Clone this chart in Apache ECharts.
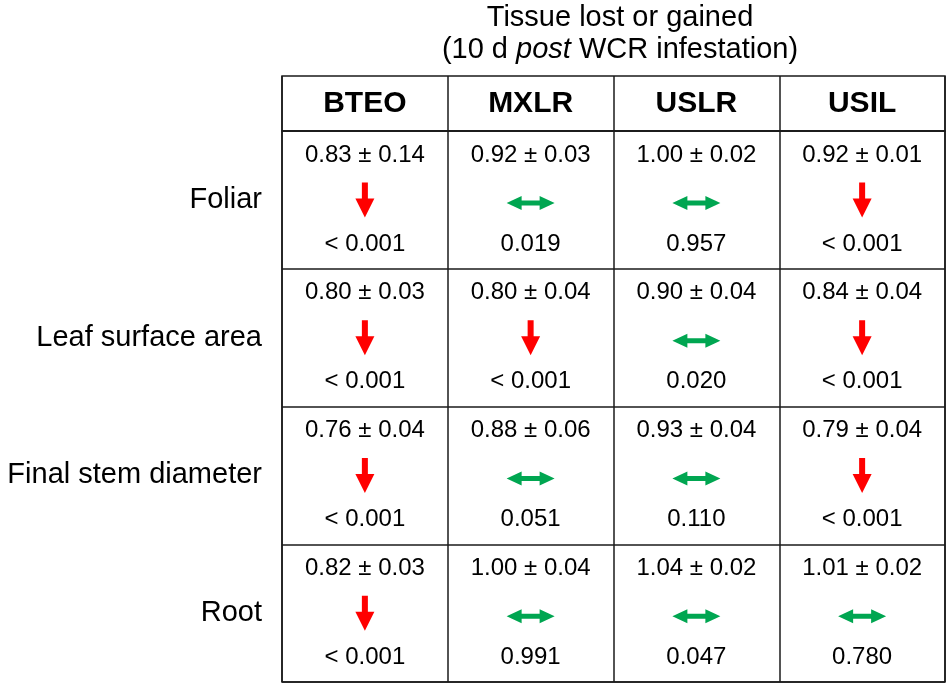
<!DOCTYPE html>
<html>
<head>
	<meta charset="utf-8">
	<title>Tissue lost or gained</title>
	<style type="text/css">
		html, body {
			margin: 0;
			padding: 0;
			background: #fff;
		}
		#chart {
			width: 950px;
			height: 687px;
		}
	</style>
</head>
<body>
	<div id="chart"></div>

	<script src="https://cdn.jsdelivr.net/npm/echarts@6.0.0/dist/echarts.min.js"></script>
	<script type="text/javascript">
	// columns = populations, rows = traits
	const COLUMNS = ['BTEO', 'MXLR', 'USLR', 'USIL'];
	const TRAITS = ['Foliar', 'Leaf surface area', 'Final stem diameter', 'Root'];

	const MEAN_RATIO = [
		[0.83, 0.92, 1.00, 0.92],
		[0.80, 0.80, 0.90, 0.84],
		[0.76, 0.88, 0.93, 0.79],
		[0.82, 1.00, 1.04, 1.01]
	];
	const STD_ERR = [
		[0.14, 0.03, 0.02, 0.01],
		[0.03, 0.04, 0.04, 0.04],
		[0.04, 0.06, 0.04, 0.04],
		[0.03, 0.04, 0.02, 0.02]
	];
	const P_VALUE = [
		['< 0.001', '0.019', '0.957', '< 0.001'],
		['< 0.001', '< 0.001', '0.020', '< 0.001'],
		['< 0.001', '0.051', '0.110', '< 0.001'],
		['< 0.001', '0.991', '0.047', '0.780']
	];
	// 'loss' = red down arrow, 'none' = green double arrow
	const CHANGE = [
		['loss', 'none', 'none', 'loss'],
		['loss', 'loss', 'none', 'loss'],
		['loss', 'none', 'none', 'loss'],
		['loss', 'none', 'none', 'none']
	];

	const FONT = 'Liberation Sans, Arial, sans-serif';
	const INK = '#000';
	const LINE = '#1a1a1a';
	const DOWN_ARROW = 'path://M6.5,0 L12.5,0 L12.5,16 L19,16 L9.5,35 L0,16 L6.5,16 Z';
	const BOTH_ARROW = 'path://M0,7 L15,0 L15,4.5 L33,4.5 L33,0 L48,7 L33,14 L33,9.5 L15,9.5 L15,14 Z';

	function buildCells() {
		let textCells = [];
		let lossCells = [];
		let noneCells = [];
		for (let r = 0; r < TRAITS.length; r++) {
			for (let c = 0; c < COLUMNS.length; c++) {
				textCells.push({
					value: [c, r],
					mean: MEAN_RATIO[r][c].toFixed(2) + ' \u00b1 ' + STD_ERR[r][c].toFixed(2),
					p: P_VALUE[r][c]
				});
				if (CHANGE[r][c] === 'loss') {
					lossCells.push([c, r]);
				} else {
					noneCells.push([c, r]);
				}
			}
		}
		return { textCells, lossCells, noneCells };
	}

	function cellLabel(formatter, offsetY, size, weight) {
		return {
			show: true,
			position: 'inside',
			offset: [0, offsetY],
			formatter: formatter,
			fontFamily: FONT,
			fontWeight: weight,
			fontSize: size,
			color: INK,
			textBorderWidth: 0
		};
	}

	// text-only scatter (scatter is 0.8 opacity by default, labels included)
	function textSeries(name, gridIdx, data, label) {
		return {
			name: name,
			type: 'scatter',
			xAxisIndex: gridIdx,
			yAxisIndex: gridIdx,
			symbolSize: 0,
			silent: true,
			itemStyle: { opacity: 1 },
			data: data,
			label: label
		};
	}

	function drawChart() {
		var myChart = echarts.init(document.getElementById('chart'));
		const cells = buildCells();

		const hiddenCat = {
			axisLine: { show: false },
			axisTick: { show: false },
			axisLabel: { show: false }
		};
		const gridLines = { show: true, interval: 0, lineStyle: { color: LINE, width: 1.5 } };

		var option = {
			animation: false,
			backgroundColor: '#fff',
			title: {
				left: 615,
				top: -3,
				textAlign: 'center',
				text: '{n|Tissue lost or gained}\n{n|(10 d }{i|post}{n| WCR infestation)}',
				textStyle: {
					fontWeight: 'normal',
					rich: {
						n: { fontFamily: FONT, fontSize: 29, fontWeight: 'normal', color: INK, lineHeight: 32 },
						i: { fontFamily: FONT, fontSize: 29, fontWeight: 'normal', color: INK, lineHeight: 32, fontStyle: 'italic' }
					}
				}
			},
			grid: [
				{
					left: 282, top: 76, width: 663, height: 55,
					show: true, borderColor: LINE, borderWidth: 1.5
				},
				{
					left: 282, top: 131, width: 663, height: 551,
					show: true, borderColor: LINE, borderWidth: 1.5
				}
			],
			xAxis: [
				Object.assign({ gridIndex: 0, type: 'category', data: COLUMNS, splitLine: gridLines }, hiddenCat),
				Object.assign({ gridIndex: 1, type: 'category', data: COLUMNS, splitLine: gridLines }, hiddenCat)
			],
			yAxis: [
				Object.assign({ gridIndex: 0, type: 'category', data: ['header'], splitLine: { show: false } }, hiddenCat),
				{
					gridIndex: 1,
					type: 'category',
					data: TRAITS,
					inverse: true,
					axisLine: { show: false },
					axisTick: { show: false },
					axisLabel: {
						margin: 20,
						fontFamily: FONT,
						fontSize: 29,
						color: INK
					},
					splitLine: gridLines
				}
			],
			series: [
				textSeries('header', 0, COLUMNS.map((c, i) => [i, 0]),
					cellLabel(p => COLUMNS[p.value[0]], 0, 30, 'bold')),
				textSeries('mean', 1, cells.textCells,
					cellLabel(p => p.data.mean, -45, 24, 'normal')),
				textSeries('p', 1, cells.textCells,
					cellLabel(p => p.data.p, 44, 24, 'normal')),
				{
					name: 'loss',
					type: 'scatter',
					xAxisIndex: 1,
					yAxisIndex: 1,
					symbol: DOWN_ARROW,
					symbolSize: [19, 35],
					symbolKeepAspect: false,
					silent: true,
					itemStyle: { color: '#ff0000', opacity: 1 },
					data: cells.lossCells
				},
				{
					name: 'none',
					type: 'scatter',
					xAxisIndex: 1,
					yAxisIndex: 1,
					symbol: BOTH_ARROW,
					symbolSize: [48, 14],
					symbolOffset: [0, 3],
					silent: true,
					itemStyle: { color: '#00a651', opacity: 1 },
					data: cells.noneCells
				}
			]
		};

		myChart.setOption(option);
	}

	drawChart();
	</script>
</body>
</html>
